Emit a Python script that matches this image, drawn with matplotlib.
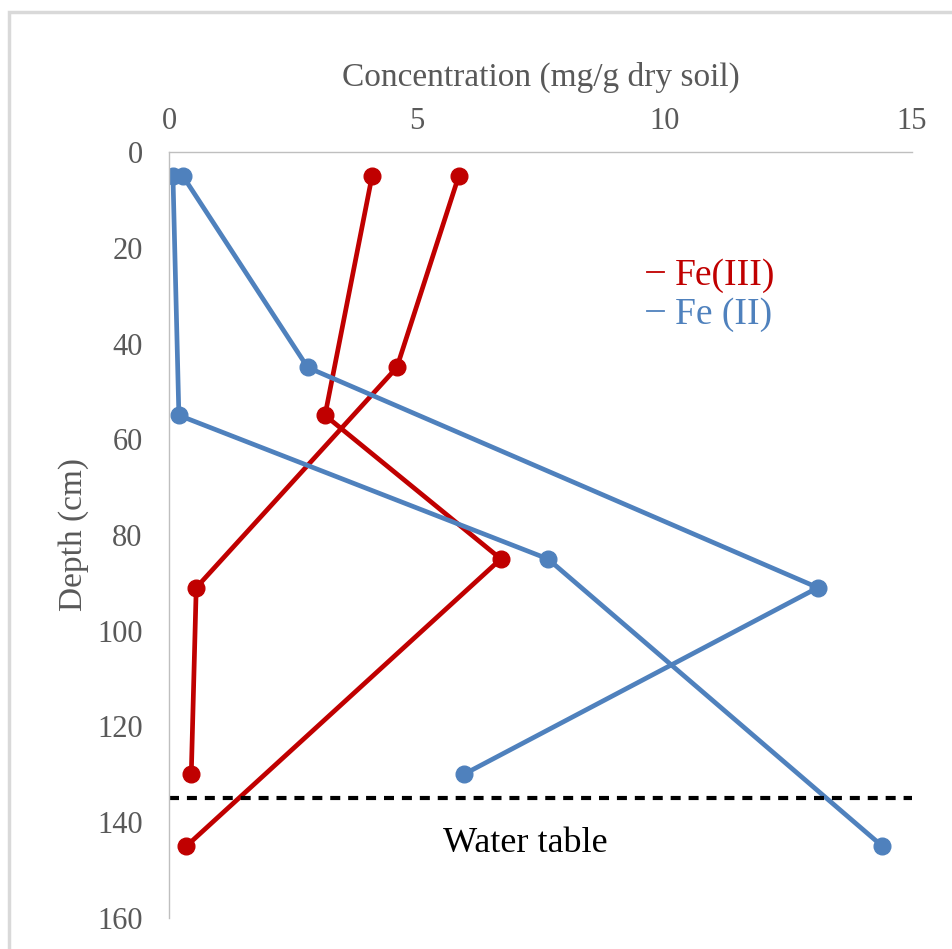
import matplotlib.pyplot as plt
from matplotlib.patches import Rectangle

# depth profiles (cm) and concentrations (mg/g dry soil)
fe3_a_conc = [4.1, 3.15, 6.7, 0.35]
fe3_a_depth = [5, 55, 85, 145]
fe3_b_conc = [5.85, 4.6, 0.55, 0.45]
fe3_b_depth = [5, 45, 91, 130]

fe2_a_conc = [0.28, 2.8, 13.1, 5.95]
fe2_a_depth = [5, 45, 91, 130]
fe2_b_conc = [0.08, 0.2, 7.65, 14.4]
fe2_b_depth = [5, 55, 85, 145]

water_table = 135
x_ticks = [0, 5, 10, 15]
y_ticks = [0, 20, 40, 60, 80, 100, 120, 140, 160]

red = '#C00000'
blue = '#4F81BD'
grey = '#595959'

plt.rcParams['font.family'] = ['Liberation Serif', 'DejaVu Serif']

fig = plt.figure(figsize=(9.52, 9.49), dpi=100)
# light grey frame round the picture
fig.patches.append(Rectangle((0.009, -0.01), 1.0, 0.997, transform=fig.transFigure,
                             fill=False, edgecolor='#D9D9D9', linewidth=2.5))
ax = fig.add_axes([0.1775, 0.0327, 0.7805, 0.8071])

ax.plot(fe3_a_conc, fe3_a_depth, color=red, lw=3.4, marker='o', ms=12, label='Fe(III)')
ax.plot(fe3_b_conc, fe3_b_depth, color=red, lw=3.4, marker='o', ms=12)
ax.plot(fe2_a_conc, fe2_a_depth, color=blue, lw=3.4, marker='o', ms=12, label='Fe (II)')
ax.plot(fe2_b_conc, fe2_b_depth, color=blue, lw=3.4, marker='o', ms=12)

ax.plot([x_ticks[0], x_ticks[-1]], [water_table, water_table], color='black',
        lw=3, ls=(0, (2.4, 1.9)), clip_on=False)
ax.text(7.2, 144.5, 'Water table', fontsize=26, ha='center', va='center', color='black')

ax.set_xlim(0, 15)
ax.set_ylim(160, 0)
ax.set_xticks(x_ticks)
ax.set_yticks(y_ticks)
ax.xaxis.tick_top()
ax.xaxis.set_label_position('top')
ax.tick_params(length=0, labelsize=22, labelcolor=grey, pad=11.5)
ax.tick_params(axis='y', pad=19)
ax.set_xlabel('Concentration (mg/g dry soil)', fontsize=24, color=grey, labelpad=15)
ax.set_ylabel('Depth (cm)', fontsize=24, color=grey, labelpad=6)

for side in ['right', 'bottom']:
    ax.spines[side].set_visible(False)
for side in ['top', 'left']:
    ax.spines[side].set_color('#BFBFBF')
    ax.spines[side].set_linewidth(1)

ax.legend(loc='center left', bbox_to_anchor=(0.643, 0.813), frameon=False, fontsize=27,
          handlelength=0.45, handletextpad=0.3, labelspacing=0.12, markerscale=0,
          labelcolor='linecolor', borderpad=0, borderaxespad=0)
for h in ax.get_legend().legend_handles:
    h.set_marker('')
    h.set_linewidth(1.3)

fig.savefig('out.png', dpi=100)
